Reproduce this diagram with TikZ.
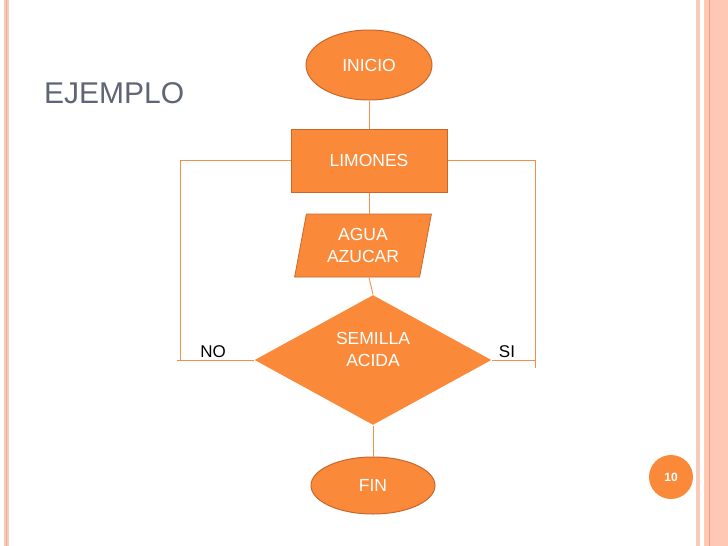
\documentclass[tikz,border=0pt]{standalone}
\usepackage{fontspec}
\setmainfont{Liberation Sans}
\usetikzlibrary{shapes.geometric}
\definecolor{ofill}{HTML}{FA8A3A}
\definecolor{odraw}{HTML}{C8672C}
\definecolor{oline}{HTML}{F0904A}
\definecolor{titlegray}{HTML}{5E6575}
\definecolor{pinkA}{HTML}{F7CBBB}
\definecolor{pinkB}{HTML}{F3AE94}
\definecolor{pinkC}{HTML}{FFC8B4}
\definecolor{pinkD}{HTML}{EFA07E}
\tikzset{
  shapebox/.style={fill=ofill, draw=odraw, line width=1pt, text=white, font=\fontsize{17.5}{21.5}\selectfont, align=center, inner sep=0pt},
  term/.style={shapebox, ellipse},
  conn/.style={draw=oline, line width=0.9pt},
  lbl/.style={font=\fontsize{17}{20}\selectfont, text=black, inner sep=0pt},
  wtext/.style={text=white, font=\fontsize{17.5}{22}\selectfont, align=center, inner sep=0pt}
}
\begin{document}
\begin{tikzpicture}[x=1pt,y=-1pt]
\useasboundingbox (0,0) rectangle (728,546);
\fill[white] (0,0) rectangle (728,546);
% borders
\fill[pinkA] (4,0) rectangle (9,546);
\fill[pinkB] (6,0) rectangle (7.2,546);
\fill[pinkA] (696,0) rectangle (699.5,546);
\fill[pinkC] (704,0) rectangle (728,546);
\fill[pinkD] (708.5,0) rectangle (710,546);
% title
\node[anchor=base west, inner sep=0pt, text=titlegray, font=\fontsize{30}{32}\selectfont] (title) at (44,103) {EJEMPLO};
% nodes
\node[term, minimum width=126pt, minimum height=70pt] (inicio) at (369,65) {INICIO};
\node[shapebox, rectangle, minimum width=156pt, minimum height=63pt] (limones) at (369,160.5) {LIMONES};
\node[shapebox, trapezium, trapezium left angle=77.5, trapezium right angle=102.5, trapezium stretches=true, minimum width=138pt, minimum height=63pt, line width=0.8pt] (agua) at (363,245.5) {AGUA\\AZUCAR};
\node[shapebox, diamond, draw=none, minimum width=237pt, minimum height=130pt, aspect=1.82] (semilla) at (373,360) {};
\node[wtext] (semtxt) at ([yshift=11pt]semilla.center) {SEMILLA\\ACIDA};
\node[term, minimum width=124pt, minimum height=57pt] (fin) at (373,485.5) {\raisebox{-3pt}{FIN}};
% labels
\node[lbl, anchor=base] (no) at (213,357) {NO};
\node[lbl, anchor=base] (si) at (507,357) {SI};
% page number
\node[circle, fill=ofill, minimum size=44pt, inner sep=0pt, text=white, font=\bfseries\fontsize{12}{12}\selectfont] (pg) at (671,477) {10};
% connectors
\draw[conn] (inicio.south) -- (limones.north);
\draw[conn] (limones.south) -- (limones.south |- agua.north);
\draw[conn] (agua.south -| limones.south) -- (semilla.north);
\draw[conn] (semilla.south) -- (fin.north);
\coordinate (lb) at (177,360);
\coordinate (lc) at (180,360);
\coordinate (rc) at (535,368);
\draw[conn] (semilla.west) -- (lb);
\draw[conn] (lc) |- (limones.west);
\draw[conn] (semilla.east) -| (rc);
\draw[conn] (rc) |- (limones.east);
\end{tikzpicture}
\end{document}
